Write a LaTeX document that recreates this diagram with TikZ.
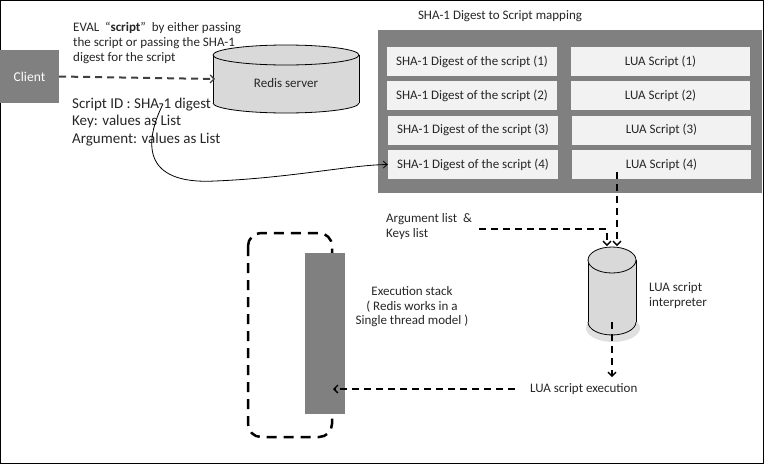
\documentclass[tikz,border=0pt]{standalone}
\usepackage{fontspec}
\setmainfont{Carlito}
\usetikzlibrary{arrows.meta}
\definecolor{panelgray}{HTML}{808080}
\definecolor{cellgray}{HTML}{F2F2F2}
\definecolor{cylfill}{HTML}{D9D9D9}
\definecolor{darkline}{HTML}{404040}
\tikzset{
  txt/.style={font=\fontsize{13}{15}\selectfont, inner sep=0pt, text=black!85},
  bigtxt/.style={font=\fontsize{15}{17.5}\selectfont, inner sep=0pt, text=black!85, align=left},
  cell/.style={fill=cellgray, draw=none, minimum height=29pt, inner sep=0pt, font=\fontsize{13}{15}\selectfont, text=black!85},
  dcell/.style={cell, minimum width=170pt},
  lcell/.style={cell, minimum width=179pt},
  darrow/.style={line width=2pt, dash pattern=on 7pt off 5pt, -{Straight Barb[length=4pt,width=8pt,line width=1.3pt]}},
}
\begin{document}
\begin{tikzpicture}[x=1pt,y=-1pt]
\useasboundingbox (0,0) rectangle (764,464);
\draw[line width=1pt] (0.5,0.5) rectangle (763.5,463.5);

% Client
\node[fill=panelgray, minimum width=59pt, minimum height=53pt, inner sep=0pt, text=white, font=\fontsize{13.5}{15}\selectfont] (client) at (29.5,76.5) {Client};

% Redis server cylinder
\fill[cylfill] (213,55) rectangle (359,103);
\fill[cylfill] (286,103) ellipse [x radius=73pt, y radius=10pt];
\begin{scope}
  \clip (205,103) rectangle (367,118);
  \draw[line width=0.8pt] (286,103) ellipse [x radius=73pt, y radius=10pt];
\end{scope}
\draw[line width=0.8pt] (213,55) -- (213,103) (359,55) -- (359,103);
\draw[line width=0.8pt, fill=cylfill] (286,55) ellipse [x radius=73pt, y radius=10pt];
\node[txt, minimum width=146pt] (redis) at (286,83) {Redis server};

% client -> redis
\draw[darrow, darkline] (client.east) -- (215,79);

% EVAL text
\node[txt, anchor=north west, align=left] (eval) at (73,21.5)
  {EVAL \ “\textbf{script}” \ by either passing\\ the script or passing the SHA-1\\ digest for the script};
\node[bigtxt, anchor=north west] (sid) at (72,97.5)
  {Script ID : SHA-1 digest\\ Key: values as List\\ Argument: values as List};

% Mapping panel
\node[txt] (title) at (500,16) {SHA-1 Digest to Script mapping};
\node[fill=panelgray, minimum width=384pt, minimum height=163pt, inner sep=0pt] (panel) at (570,111.5) {};
\node[dcell] (d1) at (472,61.5) {SHA-1 Digest of the script (1)};
\node[dcell] (d2) at (472,95.5) {SHA-1 Digest of the script (2)};
\node[dcell] (d3) at (473,130) {SHA-1 Digest of the script (3)};
\node[dcell] (d4) at (473,164.5) {SHA-1 Digest of the script (4)};
\node[lcell] (l1) at (660.5,61.5) {LUA Script (1)};
\node[lcell] (l2) at (660.5,95.5) {LUA Script (2)};
\node[lcell] (l3) at (661.5,130) {LUA Script (3)};
\node[lcell] (l4) at (661.5,164.5) {LUA Script (4)};

% curve from Script ID to digest (4)
\coordinate (cstart) at (163,104);
\draw[line width=0.8pt, -{Straight Barb[length=4pt,width=7pt]}] (cstart) .. controls (145,140) and (140,185) .. (215,181) .. controls (290,178) and (350,165) .. (d4.west);

% LUA interpreter cylinder
\fill[black!12] (613,328) ellipse [x radius=27pt, y radius=14pt];
\fill[cylfill] (588,260) rectangle (636,322);
\fill[cylfill] (612,322) ellipse [x radius=24pt, y radius=13pt];
\begin{scope}
  \clip (580,322) rectangle (644,340);
  \draw[line width=0.8pt] (612,322) ellipse [x radius=24pt, y radius=13pt];
\end{scope}
\draw[line width=0.8pt] (588,260) -- (588,322) (636,260) -- (636,322);
\draw[line width=0.8pt, fill=cylfill] (612,260) ellipse [x radius=24pt, y radius=13pt];
\node[minimum width=48pt, minimum height=88pt, inner sep=0pt] (lua) at (612,291) {};
\node[txt, anchor=north west, align=left] (luatxt) at (649,282) {LUA script\\ interpreter};

% LUA script(4) -> interpreter
\coordinate (l4out) at (617,172);
\draw[darrow] (l4out) -- (617,246);

% Argument list
\node[txt, anchor=north west, align=left] (arg) at (386,213) {Argument list \ \&\\ Keys list};
\coordinate (argout) at (479,229);
\draw[darrow] (argout) -- (607,229) -- (607,246);

% interpreter -> execution
\coordinate (luain) at (612,322);
\node[txt, anchor=west] (exec) at (530,389) {LUA script execution};
\draw[darrow] (luain) -- (612,377);

% Execution stack
\draw[line width=2.5pt, dash pattern=on 10pt off 7pt, rounded corners=13pt] (248,233) rectangle (332,437);
\node[fill=panelgray, minimum width=40pt, minimum height=161pt, inner sep=0pt] (stack) at (325,333.5) {};
\node[txt, align=center, font=\fontsize{13}{14.5}\selectfont] (stacktxt) at (412,307) {Execution stack\\ ( Redis works in a\\ Single thread model )};

\coordinate (execout) at (515,389);
\draw[darrow] (execout) -- (333,389);
\end{tikzpicture}
\end{document}
